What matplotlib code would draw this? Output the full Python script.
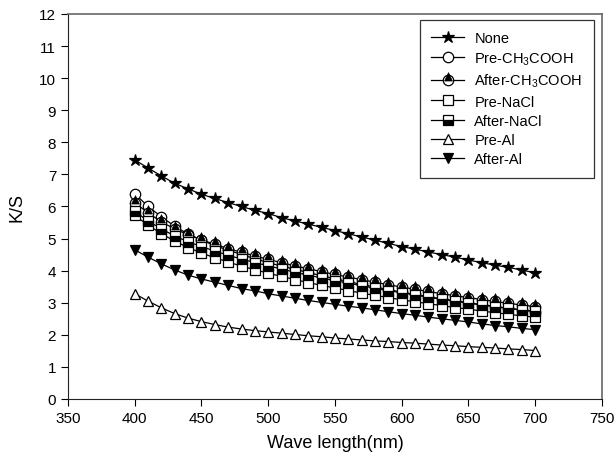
"""
K/S versus wavelength for differently treated samples.
Output: out.png
"""

import numpy as np
import matplotlib.pyplot as plt
from matplotlib.path import Path
from matplotlib.legend_handler import HandlerTuple

plt.rcParams["font.family"] = ["Liberation Sans", "DejaVu Sans"]
plt.rcParams["mathtext.fontset"] = "custom"
plt.rcParams["mathtext.rm"] = "Liberation Sans"
plt.rcParams["mathtext.default"] = "regular"

# -------------------------------------------------------------------
# Data
# -------------------------------------------------------------------
wavelength = np.arange(400, 701, 10)

ks_none = [7.45, 7.20, 6.95, 6.72, 6.55, 6.38, 6.25, 6.12, 6.00, 5.88,
           5.78, 5.65, 5.55, 5.45, 5.35, 5.25, 5.15, 5.05, 4.95, 4.85,
           4.75, 4.67, 4.58, 4.50, 4.42, 4.33, 4.25, 4.17, 4.10, 4.02, 3.93]
ks_pre_acid = [6.40, 6.00, 5.68, 5.38, 5.14, 4.95, 4.78, 4.64, 4.50, 4.37,
               4.25, 4.14, 4.04, 3.94, 3.84, 3.75, 3.66, 3.57, 3.49, 3.41,
               3.33, 3.26, 3.19, 3.12, 3.06, 3.00, 2.94, 2.88, 2.82, 2.77, 2.72]
ks_after_acid = [6.12, 5.80, 5.52, 5.30, 5.12, 4.96, 4.82, 4.69, 4.57, 4.46,
                 4.35, 4.25, 4.15, 4.06, 3.97, 3.88, 3.80, 3.72, 3.64, 3.56,
                 3.49, 3.42, 3.35, 3.28, 3.22, 3.16, 3.10, 3.04, 2.98, 2.93, 2.88]
ks_pre_nacl = [5.72, 5.42, 5.15, 4.92, 4.72, 4.55, 4.40, 4.27, 4.14, 4.03,
               3.92, 3.82, 3.72, 3.63, 3.54, 3.46, 3.38, 3.30, 3.23, 3.16,
               3.09, 3.03, 2.97, 2.91, 2.85, 2.80, 2.74, 2.69, 2.64, 2.59, 2.55]
ks_after_nacl = [5.85, 5.55, 5.30, 5.08, 4.90, 4.75, 4.61, 4.48, 4.36, 4.25,
                 4.15, 4.05, 3.95, 3.86, 3.77, 3.69, 3.61, 3.53, 3.45, 3.38,
                 3.31, 3.24, 3.17, 3.11, 3.05, 2.99, 2.93, 2.88, 2.83, 2.78, 2.74]
ks_pre_al = [3.28, 3.05, 2.84, 2.66, 2.52, 2.41, 2.32, 2.24, 2.18, 2.13,
             2.09, 2.05, 2.01, 1.97, 1.94, 1.90, 1.87, 1.84, 1.81, 1.79,
             1.76, 1.74, 1.71, 1.68, 1.66, 1.63, 1.61, 1.59, 1.56, 1.54, 1.51]
ks_after_al = [4.65, 4.42, 4.21, 4.02, 3.86, 3.74, 3.64, 3.54, 3.44, 3.37,
               3.28, 3.21, 3.14, 3.07, 3.01, 2.95, 2.89, 2.84, 2.78, 2.72,
               2.66, 2.61, 2.55, 2.50, 2.45, 2.40, 2.34, 2.29, 2.25, 2.20, 2.16]

# -------------------------------------------------------------------
# Custom marker: filled triangle sitting on top of the circle
# (the apex pokes out above the circle, as in the original)
# -------------------------------------------------------------------
tri_top = Path([(-0.75, -0.1), (0.75, -0.1), (0.0, 1.5), (-0.75, -0.1)],
               [Path.MOVETO, Path.LINETO, Path.LINETO, Path.CLOSEPOLY])

fig = plt.figure(figsize=(6.15, 4.64), dpi=100)
ax = fig.add_axes([0.1106, 0.138, 0.868, 0.8297])

lw = 0.9
common = dict(color="black", linewidth=lw, markeredgecolor="black",
              markeredgewidth=0.9)

h_none, = ax.plot(wavelength, ks_none, marker="*", ms=9,
                  markerfacecolor="black", **common)
h_pre_acid, = ax.plot(wavelength, ks_pre_acid, marker="o", ms=7.5,
                      markerfacecolor="white", **common)
h_after_acid, = ax.plot(wavelength, ks_after_acid, marker="o", ms=7.5,
                        markerfacecolor="white", **common)
h_after_acid_tri, = ax.plot(wavelength, ks_after_acid, linestyle="none",
                            marker=tri_top, ms=7.5 * 1.5,
                            markerfacecolor="black", markeredgecolor="black",
                            markeredgewidth=0.5)
h_pre_nacl, = ax.plot(wavelength, ks_pre_nacl, marker="s", ms=6.5,
                      markerfacecolor="white", **common)
h_after_nacl, = ax.plot(wavelength, ks_after_nacl, marker="s", ms=6.5,
                        fillstyle="bottom", markerfacecolor="black",
                        markerfacecoloralt="white", **common)
h_pre_al, = ax.plot(wavelength, ks_pre_al, marker="^", ms=7.5,
                    markerfacecolor="white", **common)
h_after_al, = ax.plot(wavelength, ks_after_al, marker="v", ms=7.5,
                      markerfacecolor="black", **common)

# -------------------------------------------------------------------
# Axes formatting
# -------------------------------------------------------------------
ax.set_xlim(350, 750)
ax.set_ylim(0, 12)
ax.set_xticks(np.arange(350, 751, 50))
ax.set_yticks(np.arange(0, 13, 1))
ax.tick_params(direction="out", length=5, width=0.8, labelsize=11,
               colors="black")
ax.set_xlabel("Wave length(nm)", fontsize=13, labelpad=7)
ax.set_ylabel("K/S", fontsize=13, labelpad=10)

for side in ["left", "bottom"]:
    ax.spines[side].set_color("#222222")
for side in ["top", "right"]:
    ax.spines[side].set_color("#666666")
    ax.spines[side].set_linewidth(1.2)

leg = ax.legend(
    [h_none, h_pre_acid, (h_after_acid, h_after_acid_tri), h_pre_nacl,
     h_after_nacl, h_pre_al, h_after_al],
    ["None", "Pre-CH$_3$COOH", "After-CH$_3$COOH", "Pre-NaCl",
     "After-NaCl", "Pre-Al", "After-Al"],
    handler_map={tuple: HandlerTuple(ndivide=1, pad=0)},
    loc="upper right", bbox_to_anchor=(0.985, 0.985), fontsize=10.5,
    frameon=True, fancybox=False, edgecolor="black", handlelength=2.25,
    handletextpad=0.7, labelspacing=0.35, borderpad=0.8, borderaxespad=0.0,
)
leg.get_frame().set_linewidth(0.9)

fig.savefig("out.png", dpi=100)
plt.close(fig)
